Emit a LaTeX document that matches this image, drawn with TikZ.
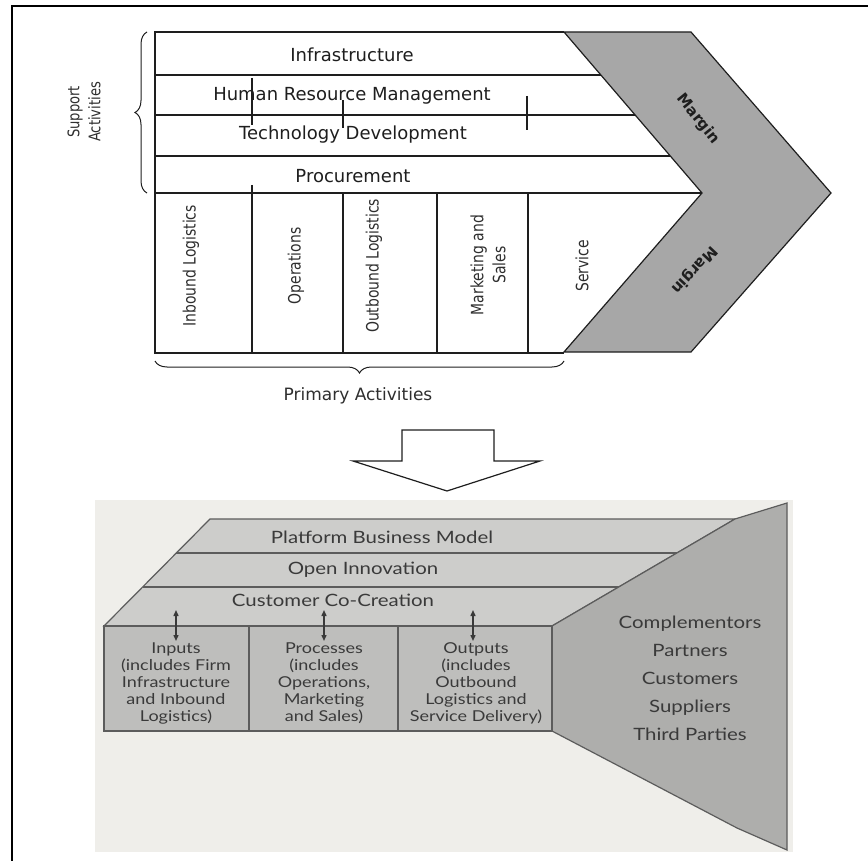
\documentclass[tikz,border=0pt]{standalone}
\usepackage{fontspec}
\setmainfont{DejaVu Sans}
\newfontfamily\narrowfont[FakeStretch=0.82]{DejaVu Sans}
\newfontfamily\bookfont[FakeStretch=1.2]{Lato}
\usetikzlibrary{decorations.pathreplacing,arrows.meta,calc}

\definecolor{ink}{HTML}{1E1E1E}
\definecolor{labelink}{HTML}{2E2E2E}
\definecolor{margingrey}{HTML}{A7A7A7}
\definecolor{paper}{HTML}{EFEEEA}
\definecolor{layergrey}{HTML}{CDCDCB}
\definecolor{boxgrey}{HTML}{BEBEBC}
\definecolor{sidegrey}{HTML}{AEAEAC}
\definecolor{bookink}{HTML}{3A3A3A}
\definecolor{bookline}{HTML}{5C5C5C}

\tikzset{
  chainline/.style={draw=ink, line width=1.3pt},
  rowlabel/.style={text=ink, font=\fontsize{18}{20}\selectfont, inner sep=0pt},
  collabel/.style={text=labelink, font=\narrowfont\fontsize{17}{22}\selectfont, rotate=90, align=center, inner sep=0pt},
  marginlabel/.style={text=ink, font=\bfseries\fontsize{15}{17}\selectfont, inner sep=0pt},
  bracestyle/.style={draw=ink, line width=1pt, decorate},
  layerlabel/.style={text=bookink, font=\bookfont\fontsize{17}{19}\selectfont, inner sep=0pt},
  boxlabel/.style={text=bookink, font=\bookfont\fontsize{15}{17}\selectfont, align=center, inner sep=0pt},
  partnerlabel/.style={text=bookink, font=\bookfont\fontsize{17}{28}\selectfont, align=center, inner sep=0pt},
  linkarrow/.style={draw=bookink, line width=1.4pt, {Triangle[length=6pt,width=5pt]}-{Triangle[length=6pt,width=5pt]}},
  bookshape/.style={draw=bookline, line width=1.2pt},
}

\begin{document}
\begin{tikzpicture}[x=1pt, y=-1pt, line join=miter]
\useasboundingbox (0,0) rectangle (868,861);

% page frame
\draw[line width=2pt, black] (12,861) -- (12,6) -- (868,6);

% ---------- value chain ----------
% margin chevron
\filldraw[fill=margingrey, draw=ink, line width=1.2pt]
  (564,32) -- (691,32) -- (831,193) -- (691,352) -- (564,352) -- (702,193) -- cycle;

% outline of the activity block
\draw[chainline] (564,32) -- (155,32) -- (155,353) -- (564,353);
% support activity rows
\draw[chainline] (155,75)  -- (601,75);
\draw[chainline] (155,115) -- (635,115);
\draw[chainline] (155,156) -- (670,156);
\draw[chainline] (155,193) -- (702,193);
% primary activity columns
\draw[chainline] (252,185) -- (252,353);
\draw[chainline] (343,193) -- (343,353);
\draw[chainline] (437,193) -- (437,353);
\draw[chainline] (528,193) -- (528,353);
% small cross marks
\draw[chainline] (252,78)  -- (252,125);
\draw[chainline] (343,100) -- (343,128);
\draw[chainline] (527,96)  -- (527,130);

% support activities
\node[rowlabel] (infra) at (352,55)  {Infrastructure};
\node[rowlabel] (hrm)   at (352,96)  {Human Resource Management};
\node[rowlabel] (tech)  at (353,135) {Technology Development};
\node[rowlabel] (proc)  at (353,176) {Procurement};

% primary activities
\node[collabel] (inbound)  at (191,266) {Inbound Logistics};
\node[collabel] (ops)      at (296,266) {Operations};
\node[collabel] (outbound) at (374,266) {Outbound Logistics};
\node[collabel] (mkt)      at (488,265) {Marketing and\\Sales};
\node[collabel] (service)  at (582,266) {Service};

% margin labels
\node[marginlabel, rotate=-51]  (margintop) at (698,119) {Margin};
\node[marginlabel, rotate=-133] (marginbot) at (694,270) {Margin};

% braces
\draw[bracestyle, decoration={brace, amplitude=12pt}] (147,193) -- (147,32);
\node[collabel, font=\narrowfont\fontsize{16}{21}\selectfont] (support) at (84,112) {Support\\Activities};
\draw[bracestyle, decoration={brace, amplitude=12pt}] (564,361) -- (155,361);
\node[rowlabel, text=labelink, font=\fontsize{17}{19}\selectfont] (primary) at (358,396) {Primary Activities};

% transition arrow
\draw[draw=ink, line width=1.2pt, fill=white]
  (402,430) -- (494,430) -- (494,461) -- (540,461) -- (447,491) -- (353,461) -- (402,461) -- cycle;

% ---------- platform model ----------
\fill[paper] (95,500) rectangle (793,852);

% stacked layers
\filldraw[fill=layergrey, bookshape] (210,519) -- (735,519) -- (552,626) -- (104,626) -- cycle;
\draw[bookshape] (176,553) -- (677,553);
\draw[bookshape] (143,587) -- (619,587);

% ecosystem side
\filldraw[fill=sidegrey, bookshape]
  (552,626) -- (735,519) -- (787,503) -- (787,850) -- (737,828) -- (552,731) -- cycle;

% front boxes
\filldraw[fill=boxgrey, bookshape] (104,626) rectangle (552,731);
\draw[bookshape] (249,626) -- (249,731);
\draw[bookshape] (398,626) -- (398,731);
\draw[draw=bookline, line width=2.6pt] (104,731) -- (552,731);

\node[layerlabel] (platform) at (382,537) {Platform Business Model};
\node[layerlabel] (openinn)  at (363,570) {Open Innovation};
\node[layerlabel] (cocreate) at (333,600) {Customer Co-Creation};

\node[boxlabel] (inputs)    at (176,683) {Inputs\\(includes Firm\\Infrastructure\\and Inbound\\Logistics)};
\node[boxlabel] (processes) at (324,683) {Processes\\(includes\\Operations,\\Marketing\\and Sales)};
\node[boxlabel] (outputs)   at (476,683) {Outputs\\(includes\\Outbound\\Logistics and\\Service Delivery)};

\coordinate (a1) at (176,610); \coordinate (b1) at (176,641);
\coordinate (a2) at (324,610); \coordinate (b2) at (324,641);
\coordinate (a3) at (473,610); \coordinate (b3) at (473,641);
\draw[linkarrow] (a1) -- (b1);
\draw[linkarrow] (a2) -- (b2);
\draw[linkarrow] (a3) -- (b3);

\node[partnerlabel] (partners) at (690,678) {Complementors\\Partners\\Customers\\Suppliers\\Third Parties};
\end{tikzpicture}
\end{document}
